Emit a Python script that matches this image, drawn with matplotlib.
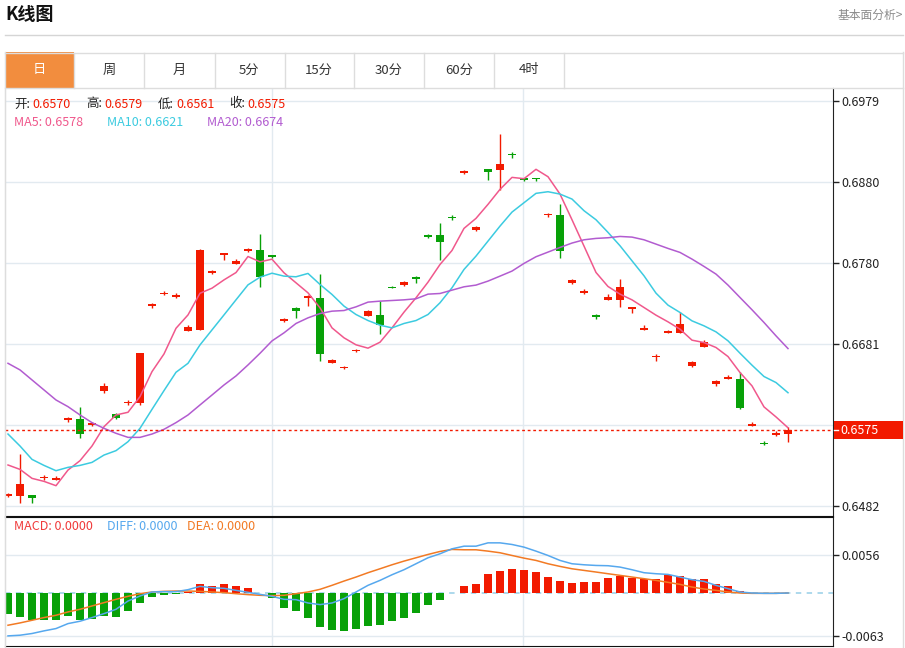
import matplotlib
matplotlib.use('Agg')
import matplotlib.pyplot as plt
from matplotlib.patches import Rectangle
from matplotlib.lines import Line2D

plt.rcParams['font.family'] = ['Noto Sans CJK SC', 'DejaVu Sans']

# ---------------- data ----------------
opens = [0.64942, 0.64946, 0.6495, 0.65159, 0.65142, 0.6588, 0.65888, 0.6581, 0.66232, 0.65953,
         0.66084, 0.66084, 0.67272, 0.67419, 0.6739, 0.66973, 0.66977, 0.67681, 0.67906, 0.67796,
         0.67952, 0.67964, 0.67898, 0.67088, 0.67248, 0.67371, 0.67375, 0.6658, 0.66511, 0.66724,
         0.6715, 0.67158, 0.6751, 0.6753, 0.67633, 0.68141, 0.68141, 0.68366, 0.68906, 0.68206,
         0.68952, 0.68943, 0.6914, 0.68849, 0.68849, 0.68386, 0.6839, 0.67551, 0.6744, 0.67162,
         0.67342, 0.67342, 0.67236, 0.66982, 0.66646, 0.66945, 0.66945, 0.66535, 0.66773, 0.66323,
         0.6638, 0.66384, 0.65807, 0.6559, 0.65692, 0.6570]
highs = [0.64983, 0.65454, 0.6495, 0.65196, 0.65183, 0.65916, 0.66039, 0.65851, 0.66334, 0.65965,
         0.66121, 0.66703, 0.67313, 0.67456, 0.6744, 0.67042, 0.67976, 0.67714, 0.67923, 0.67849,
         0.67988, 0.6816, 0.67906, 0.67121, 0.67256, 0.67408, 0.6767, 0.66626, 0.66535, 0.66748,
         0.67228, 0.67334, 0.67526, 0.67584, 0.67641, 0.68161, 0.68288, 0.68386, 0.68943, 0.68255,
         0.68952, 0.69381, 0.69169, 0.68849, 0.68849, 0.68419, 0.68526, 0.67604, 0.67477, 0.67178,
         0.67416, 0.67604, 0.6726, 0.67043, 0.66687, 0.66978, 0.67195, 0.66597, 0.66851, 0.66368,
         0.66433, 0.6647, 0.65856, 0.65614, 0.65741, 0.6579]
lows = [0.64925, 0.6486, 0.6486, 0.65138, 0.6514, 0.65855, 0.6565, 0.65802, 0.66203, 0.65892,
        0.6606, 0.66056, 0.67247, 0.67407, 0.6737, 0.6697, 0.66977, 0.67673, 0.67841, 0.67784,
        0.67939, 0.67505, 0.67866, 0.67084, 0.67133, 0.67273, 0.66597, 0.66572, 0.66503, 0.66712,
        0.6715, 0.66925, 0.67494, 0.67522, 0.67559, 0.68108, 0.67834, 0.68329, 0.68898, 0.68194,
        0.6882, 0.68694, 0.69087, 0.68808, 0.68808, 0.6837, 0.67866, 0.67539, 0.67416, 0.67113,
        0.67342, 0.67256, 0.67187, 0.66982, 0.66597, 0.66937, 0.66945, 0.66531, 0.66773, 0.66294,
        0.66376, 0.66007, 0.65807, 0.65565, 0.6568, 0.6561]
closes = [0.64966, 0.65085, 0.6492, 0.65175, 0.65163, 0.6590, 0.65699, 0.65843, 0.66293, 0.65896,
          0.66101, 0.66694, 0.67296, 0.67436, 0.67407, 0.67014, 0.67964, 0.67702, 0.67923, 0.67829,
          0.67972, 0.67636, 0.6787, 0.67113, 0.67215, 0.674, 0.66687, 0.66609, 0.66523, 0.6674,
          0.67215, 0.67039, 0.67494, 0.67567, 0.67604, 0.68116, 0.68059, 0.6835, 0.68931, 0.68247,
          0.68923, 0.69013, 0.69132, 0.68816, 0.68837, 0.68399, 0.67952, 0.67596, 0.67457, 0.67137,
          0.67383, 0.67502, 0.6726, 0.67006, 0.66662, 0.66965, 0.67056, 0.66585, 0.6683, 0.6636,
          0.664, 0.66024, 0.65827, 0.65581, 0.65721, 0.6575]

ma5 = [0.65323, 0.65269, 0.65159, 0.65122, 0.65069, 0.65261, 0.65376, 0.65556, 0.65793, 0.65937,
       0.6597, 0.66162, 0.66469, 0.66686, 0.67001, 0.67165, 0.67431, 0.67493, 0.67595, 0.67685,
       0.67882, 0.67816, 0.67849, 0.67682, 0.67559, 0.67436, 0.67252, 0.67006, 0.66884, 0.66798,
       0.66757, 0.6683, 0.67006, 0.67199, 0.67375, 0.67567, 0.67784, 0.67956, 0.68227, 0.6835,
       0.68522, 0.68706, 0.68853, 0.68837, 0.68952, 0.68861, 0.68648, 0.68333, 0.6801, 0.67686,
       0.67514, 0.6742, 0.6735, 0.67256, 0.67162, 0.6708, 0.6699, 0.66855, 0.66826, 0.66765,
       0.66654, 0.66458, 0.66294, 0.66036, 0.65913, 0.6578]
ma10 = [0.65703, 0.65556, 0.65392, 0.65318, 0.65253, 0.65294, 0.65318, 0.65355, 0.65445, 0.65499,
        0.65609, 0.65773, 0.66006, 0.66236, 0.66461, 0.66571, 0.66797, 0.66981, 0.67165, 0.6735,
        0.67534, 0.67628, 0.67677, 0.67641, 0.67633, 0.67674, 0.67539, 0.67416, 0.67273, 0.6717,
        0.67096, 0.67039, 0.67006, 0.6706, 0.67096, 0.6717, 0.67314, 0.67498, 0.67723, 0.67887,
        0.68071, 0.68255, 0.68427, 0.68542, 0.68657, 0.68677, 0.68648, 0.68587, 0.68444, 0.68333,
        0.68178, 0.68014, 0.67829, 0.67645, 0.67432, 0.67285, 0.67195, 0.67092, 0.67031, 0.66957,
        0.66847, 0.66695, 0.66548, 0.66409, 0.66335, 0.6621]
ma20 = [0.66571, 0.6649, 0.66367, 0.66244, 0.66121, 0.66039, 0.65937, 0.65843, 0.65773, 0.65712,
        0.65662, 0.65662, 0.65703, 0.65761, 0.65843, 0.65937, 0.6606, 0.66182, 0.66305, 0.66416,
        0.66551, 0.66694, 0.66846, 0.66945, 0.6706, 0.67129, 0.67182, 0.67211, 0.67219, 0.67264,
        0.67322, 0.67334, 0.67342, 0.6735, 0.67363, 0.6742, 0.67428, 0.67469, 0.6751, 0.67531,
        0.6758, 0.67641, 0.67703, 0.67797, 0.67879, 0.67936, 0.67993, 0.68047, 0.68087, 0.68104,
        0.68112, 0.68128, 0.6812, 0.68087, 0.68034, 0.67981, 0.67932, 0.6785, 0.6776, 0.67666,
        0.67531, 0.67379, 0.67228, 0.67072, 0.66908, 0.66752]

macd_hist = [-0.00313, -0.00353, -0.00392, -0.00392, -0.00392, -0.00343, -0.00392, -0.00377, -0.00343, -0.00353,
             -0.00264, -0.00142, -0.00059, -0.00029, -0.00015, 0.0001, 0.00127, 0.00108, 0.00127, 0.00098,
             0.00073, -0.00002, -0.00069, -0.00215, -0.00269, -0.00362, -0.005, -0.00548, -0.00563, -0.00524,
             -0.00485, -0.00475, -0.00411, -0.00367, -0.00294, -0.00181, -0.00108, 0.0, 0.00098, 0.00127,
             0.00274, 0.00328, 0.00357, 0.00333, 0.00313, 0.0024, 0.00181, 0.00152, 0.00157, 0.00167,
             0.00225, 0.00245, 0.00225, 0.00206, 0.00211, 0.0026, 0.0025, 0.00206, 0.00206, 0.00137,
             0.00098, 0.00029, 0.00002, -0.00015, 0.0, 0.0]
diff = [-0.00632, -0.00622, -0.00597, -0.00558, -0.00524, -0.00451, -0.00416, -0.00362, -0.00304, -0.0024,
        -0.00118, -0.00044, 0.00015, 0.0002, 0.0002, 0.00049, 0.00098, 0.00078, 0.00069, 0.00039,
        0.0001, -0.0002, -0.00049, -0.00093, -0.00098, -0.00147, -0.00171, -0.00147, -0.00083, 0.00015,
        0.00113, 0.00186, 0.00269, 0.00343, 0.00431, 0.00519, 0.00578, 0.00651, 0.0069, 0.0069,
        0.00739, 0.00739, 0.00715, 0.00676, 0.00617, 0.00553, 0.0048, 0.00431, 0.00416, 0.00406,
        0.00402, 0.00382, 0.00343, 0.00299, 0.00284, 0.00274, 0.00235, 0.00196, 0.00171, 0.00113,
        0.00064, 0.00015, 0.0, -0.00005, -0.00005, 0.0]
dea = [-0.00475, -0.00441, -0.00402, -0.00362, -0.00328, -0.00279, -0.0024, -0.00191, -0.00142, -0.00093,
       -0.00049, -0.0001, 0.00015, 0.00024, 0.00029, 0.00029, 0.00024, 0.00015, 0.00005, -0.0001,
       -0.00024, -0.00034, -0.00039, -0.00034, -0.0001, 0.00015, 0.00054, 0.00113, 0.00176, 0.00235,
       0.00299, 0.00357, 0.00416, 0.0047, 0.00519, 0.00568, 0.00612, 0.00642, 0.00637, 0.00637,
       0.00617, 0.00593, 0.00553, 0.00514, 0.0048, 0.00431, 0.00392, 0.00357, 0.00333, 0.00309,
       0.00284, 0.0026, 0.00235, 0.00211, 0.00186, 0.00157, 0.00127, 0.00088, 0.00059, 0.00039,
       0.00015, 0.0, -0.00005, -0.00005, -0.00005, 0.0]

price_ticks = [0.6482, 0.6582, 0.6681, 0.6780, 0.6880, 0.6979]
price_tick_labels = ['0.6482', '0.6582', '0.6681', '0.6780', '0.6880', '0.6979']
macd_ticks = [-0.0063, 0.0056]
macd_tick_labels = ['-0.0063', '0.0056']
last_price = 0.6575
tabs = ['日', '周', '月', '5分', '15分', '30分', '60分', '4时']

# ---------------- styles ----------------
RED = '#F21A00'
GREEN = '#08A108'
C_MA5 = '#F0588C'
C_MA10 = '#3CCBE0'
C_MA20 = '#B25CD0'
C_DIFF = '#56A8EE'
C_DEA = '#F27A24'
GRID = '#E2EAF0'

W, H = 905, 648
fig = plt.figure(figsize=(W / 100, H / 100), dpi=100)


def fx(x):
    return x / W


def fy(y):
    return 1 - y / H


def add_axes_px(x0, y0, x1, y1):
    return fig.add_axes([fx(x0), fy(y1), (x1 - x0) / W, (y1 - y0) / H])


# header
fig.text(fx(5), fy(15), 'K线图', fontsize=13, fontweight='bold', color='#111111', va='center', ha='left')
fig.text(fx(903), fy(15), '基本面分析>', fontsize=8.5, color='#8A8A8A', va='center', ha='right')
fig.add_artist(Line2D([fx(5), fx(903)], [fy(35), fy(35)], color='#D5D5D5', lw=1))

# container
fig.add_artist(Line2D([fx(5), fx(903)], [fy(52.5), fy(52.5)], color='#DDDDDD', lw=1))
fig.add_artist(Line2D([fx(5), fx(903)], [fy(87.5), fy(87.5)], color='#DDDDDD', lw=1))
fig.add_artist(Line2D([fx(4.5), fx(4.5)], [fy(52), fy(648)], color='#DDDDDD', lw=1))
fig.add_artist(Line2D([fx(903), fx(903)], [fy(52), fy(648)], color='#DDDDDD', lw=1))
fig.add_artist(Rectangle((fx(5), fy(87.5)), (74 - 5) / W, 35 / H, color='#F28D3E', lw=0))
tab_edges = [74, 144, 215, 285, 354, 424, 494, 564]
tab_centers = [39, 109, 179, 249, 319, 389, 459, 529]
for e in tab_edges:
    fig.add_artist(Line2D([fx(e), fx(e)], [fy(52.5), fy(87.5)], color='#DDDDDD', lw=1))
for i, (t, c) in enumerate(zip(tabs, tab_centers)):
    fig.text(fx(c), fy(70), t, fontsize=9.5, color='white' if i == 0 else '#333333',
             ha='center', va='center')

# ---------------- main axes ----------------
x = list(range(len(closes)))
ax = add_axes_px(5, 88, 833, 516)
ax.set_xlim(-0.25, 68.75)
ax.set_ylim(0.64697, 0.69950)
ax.set_facecolor('white')

for t in price_ticks:
    ax.axhline(t, color=GRID, lw=1, zorder=0)
for vx in [22, 42.92]:
    ax.axvline(vx, color=GRID, lw=1, zorder=0)

cols = [RED if c >= o else GREEN for o, c in zip(opens, closes)]
ax.vlines(x, lows, highs, colors=cols, lw=1.0, zorder=2)
bottoms = [min(o, c) for o, c in zip(opens, closes)]
heights = [max(abs(c - o), 0.00008) for o, c in zip(opens, closes)]
ax.bar(x, heights, bottom=bottoms, width=0.72, color=cols, lw=0, zorder=3)

ax.plot(x, ma5, color=C_MA5, lw=1.1, zorder=4)
ax.plot(x, ma10, color=C_MA10, lw=1.1, zorder=4)
ax.plot(x, ma20, color=C_MA20, lw=1.1, zorder=4)

ax.axhline(last_price, color=RED, lw=1.0, ls=(0, (2, 2)), zorder=5)

ax.yaxis.tick_right()
ax.set_yticks(price_ticks)
ax.set_yticklabels(price_tick_labels)
ax.tick_params(axis='y', length=4, width=1, color='#222222', pad=2, labelsize=9, labelcolor='#222222')
ax.set_xticks([])
for s in ['top']:
    ax.spines[s].set_visible(False)
ax.spines['left'].set_color('#DDDDDD')
ax.spines['right'].set_color('#222222')
ax.spines['bottom'].set_color('#111111')

# last price label box
fig.add_artist(Rectangle((fx(834), fy(439)), (903 - 834) / W, 18 / H, color=RED, lw=0, zorder=10))
fig.add_artist(Line2D([fx(834), fx(838)], [fy(430), fy(430)], color='white', lw=1, zorder=11))
fig.text(fx(840), fy(430), '0.6575', fontsize=9, color='white', ha='left', va='center', zorder=12)

# info rows
def seg(xp, yp, s, c):
    fig.text(fx(xp), fy(yp), s, fontsize=9, color=c, ha='left', va='center')

seg(14, 104, '开:', '#222222'); seg(32, 104, '0.6570', RED)
seg(86, 104, '高:', '#222222'); seg(104, 104, '0.6579', RED)
seg(158, 104, '低:', '#222222'); seg(176, 104, '0.6561', RED)
seg(229, 104, '收:', '#222222'); seg(247, 104, '0.6575', RED)
seg(14, 122, 'MA5: 0.6578', C_MA5)
seg(107, 122, 'MA10: 0.6621', C_MA10)
seg(207, 122, 'MA20: 0.6674', C_MA20)

# ---------------- MACD axes ----------------
ax2 = add_axes_px(5, 517, 833, 646)
ax2.set_xlim(-0.25, 68.75)
ax2.set_ylim(-0.00781, 0.0112)
for t in macd_ticks:
    ax2.axhline(t, color=GRID, lw=1, zorder=0)
for vx in [22, 42.92]:
    ax2.axvline(vx, color=GRID, lw=1, zorder=0)
ax2.axhline(0, color='#A6D6EA', lw=1.3, ls=(0, (3, 3)), zorder=1)
hcols = [RED if v >= 0 else GREEN for v in macd_hist]
ax2.bar(x, macd_hist, width=0.7, color=hcols, lw=0, zorder=2)
ax2.plot(x, dea, color=C_DEA, lw=1.1, zorder=3)
ax2.plot(x, diff, color=C_DIFF, lw=1.1, zorder=3)
ax2.yaxis.tick_right()
ax2.set_yticks(macd_ticks)
ax2.set_yticklabels(macd_tick_labels)
ax2.tick_params(axis='y', length=4, width=1, color='#222222', pad=2, labelsize=9, labelcolor='#222222')
ax2.set_xticks([])
ax2.spines['left'].set_color('#DDDDDD')
ax2.spines['right'].set_color('#222222')
ax2.spines['top'].set_color('#111111')
ax2.spines['bottom'].set_color('#111111')

fig.text(fx(14), fy(527), 'MACD: 0.0000', fontsize=9, color='#F03A3A', ha='left', va='center')
fig.text(fx(107), fy(527), 'DIFF: 0.0000', fontsize=9, color=C_DIFF, ha='left', va='center')
fig.text(fx(187), fy(527), 'DEA: 0.0000', fontsize=9, color=C_DEA, ha='left', va='center')

fig.savefig('out.png', dpi=100)
